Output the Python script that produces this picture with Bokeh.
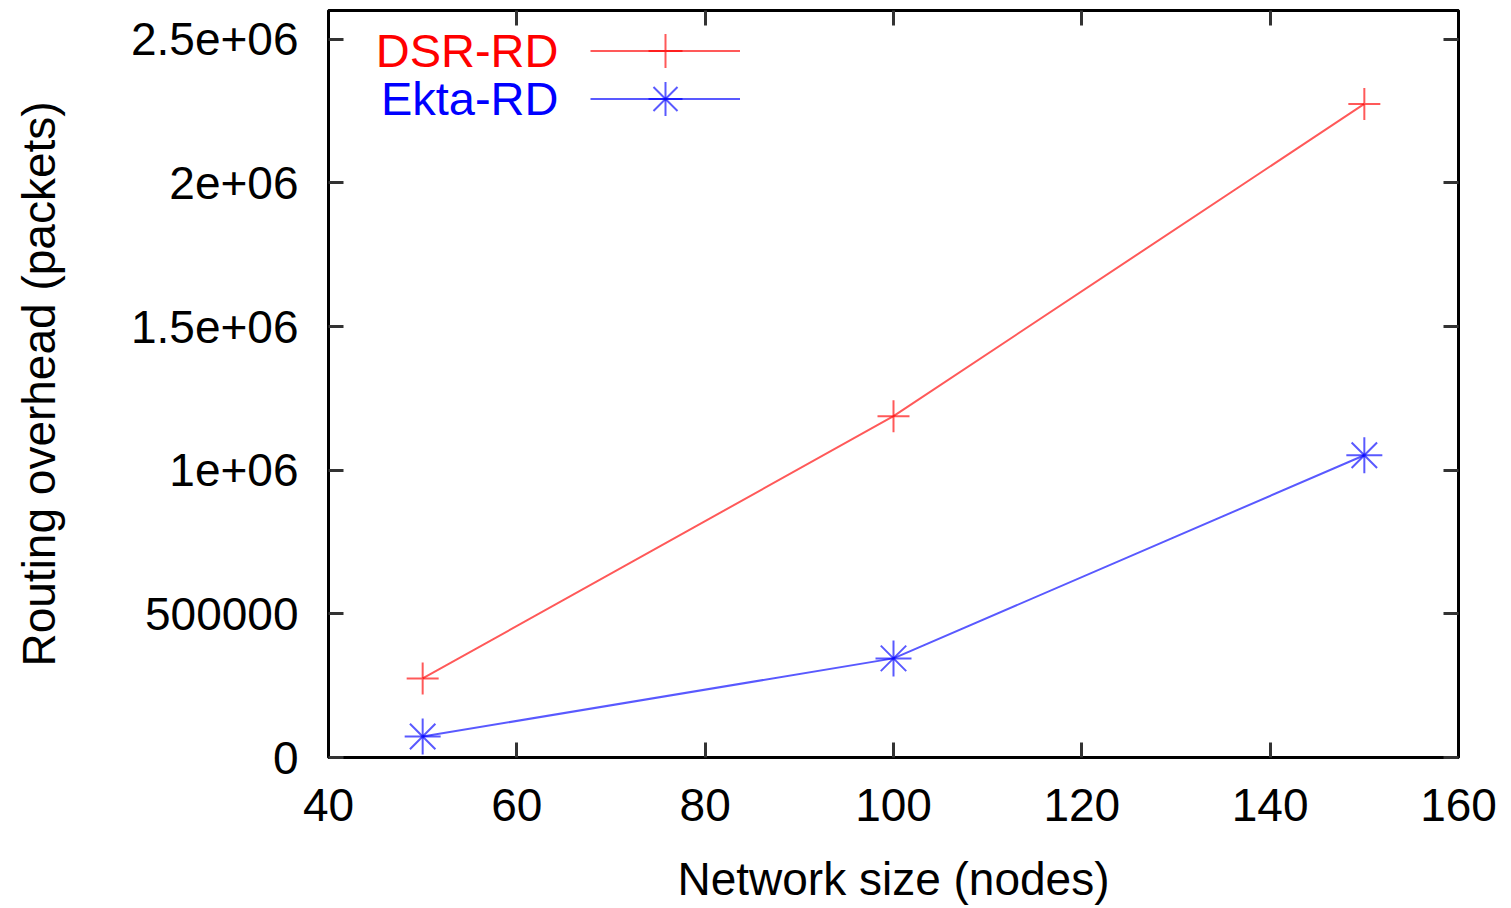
from bokeh.plotting import figure
from bokeh.models import (Range1d, FixedTicker, LinearAxis, Legend, LegendItem, Label)
from bokeh.embed import file_html
from bokeh.resources import INLINE

# ---- data ----
network_size = [50, 100, 150]
dsr_rd = [275000, 1188000, 2275000]
ekta_rd = [73000, 345000, 1052000]
x_ticks = [40, 60, 80, 100, 120, 140, 160]
y_ticks = [0, 500000, 1000000, 1500000, 2000000, 2500000]
y_tick_labels = ["0", "500000", "1e+06", "1.5e+06", "2e+06", "2.5e+06"]
series_names = ["DSR-RD", "Ekta-RD"]

FONT = "Liberation Sans"
FS = "46px"

p = figure(width=1511, height=908, output_backend="svg", toolbar_location=None,
           x_range=Range1d(40, 160), y_range=Range1d(0, 2600000),
           min_border_left=328, min_border_right=53, min_border_top=10,
           min_border_bottom=151, x_axis_location=None, y_axis_location=None)
p.grid.visible = False
p.outline_line_color = "black"
p.outline_line_width = 3
p.background_fill_color = "white"
p.border_fill_color = "white"

def style_axis(ax, ticks, show_labels):
    ax.ticker = FixedTicker(ticks=ticks)
    ax.minor_tick_line_color = None
    ax.major_tick_in = 15
    ax.major_tick_out = 0
    ax.major_tick_line_width = 3
    ax.major_tick_line_color = "#333333"
    ax.axis_line_color = "black"
    ax.axis_line_width = 3
    ax.major_label_text_font = FONT
    ax.major_label_text_font_size = FS
    if show_labels:
        ax.major_label_text_color = "black"
    else:
        ax.major_label_text_color = None
        ax.major_label_standoff = 0

xb = LinearAxis(axis_label="Network size (nodes)")
style_axis(xb, x_ticks, True)
xb.major_label_standoff = 31
xb.axis_label_standoff = 29
xb.axis_label_text_font = FONT
xb.axis_label_text_font_size = FS
xb.axis_label_text_font_style = "normal"
xb.axis_label_text_color = "black"
p.add_layout(xb, "below")

yl = LinearAxis(axis_label="Routing overhead (packets)")
style_axis(yl, y_ticks, True)
yl.major_label_overrides = {t: s for t, s in zip(y_ticks, y_tick_labels)}
yl.major_label_standoff = 30
yl.axis_label_standoff = 63
yl.axis_label_text_font = FONT
yl.axis_label_text_font_size = FS
yl.axis_label_text_font_style = "normal"
yl.axis_label_text_color = "black"
p.add_layout(yl, "left")

xt = LinearAxis()
style_axis(xt, x_ticks, False)
p.add_layout(xt, "above")
yr = LinearAxis()
style_axis(yr, y_ticks, False)
p.add_layout(yr, "right")

# ---- series ----
l1 = p.line(network_size, dsr_rd, line_color="red", line_alpha=0.65, line_width=2)
m1 = p.scatter(network_size, dsr_rd, marker="cross", size=32, line_color="red",
               line_alpha=0.65, line_width=2)
l2 = p.line(network_size, ekta_rd, line_color="blue", line_alpha=0.65, line_width=2)
m2a = p.scatter(network_size, ekta_rd, marker="cross", size=36, line_color="blue",
                line_alpha=0.65, line_width=2)
m2b = p.scatter(network_size, ekta_rd, marker="x", size=36, line_color="blue",
                line_alpha=0.65, line_width=2)

for rends, loc in zip([[l1, m1], [l2, m2a, m2b]], [(262, 664), (262, 616)]):
    lg = Legend(items=[LegendItem(label=" ", renderers=rends)],
                location=loc, glyph_width=150, glyph_height=85, spacing=0,
                padding=0, margin=0, label_width=0, label_standoff=0,
                label_text_font_size="1px", label_text_color=None,
                border_line_alpha=0, background_fill_alpha=0)
    p.add_layout(lg, "center")

for name, col, yy in zip(series_names, ["red", "blue"], [707, 659]):
    p.add_layout(Label(x=230, y=yy, x_units="screen", y_units="screen", text=name,
                       text_align="right", text_baseline="middle", text_color=col,
                       text_font=FONT, text_font_size="47px"))

open("out.html", "w").write(file_html(p, INLINE))
